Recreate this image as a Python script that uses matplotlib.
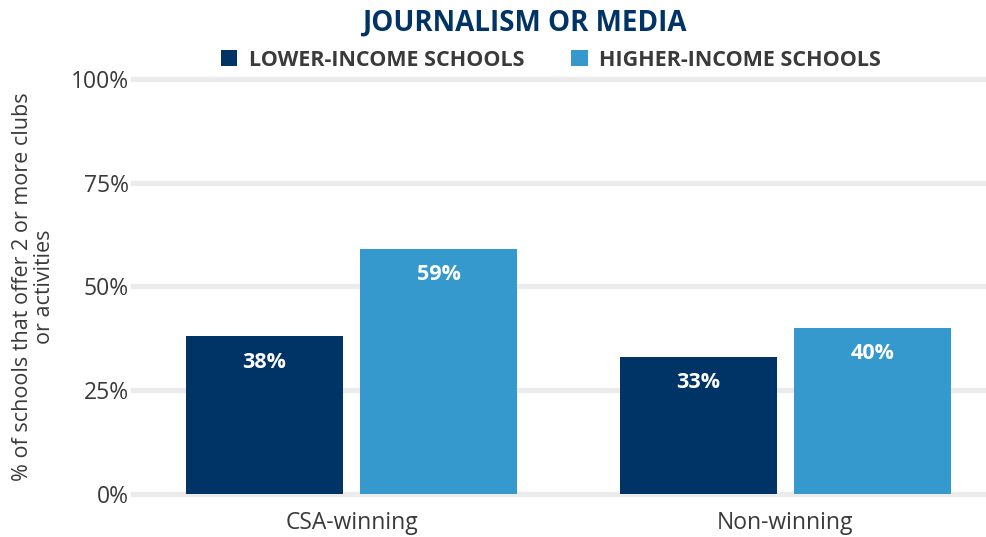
import matplotlib.pyplot as plt
import numpy as np

plt.rcParams['font.family'] = ['Open Sans', 'DejaVu Sans']

categories = ['CSA-winning', 'Non-winning']
lower_income = [38, 33]
higher_income = [59, 40]
series_names = ['LOWER-INCOME SCHOOLS', 'HIGHER-INCOME SCHOOLS']
yticks = [0, 25, 50, 75, 100]

NAVY = '#003366'
LIGHT_BLUE = '#3599cd'
GRID = '#ebebeb'
TEXT = '#3a3a3a'


def add_value_labels(ax, bars, values):
	for b, v in zip(bars, values):
		ax.annotate('%d%%' % v, xy=(b.get_x() + b.get_width() / 2, v),
		            xytext=(0, -11), textcoords='offset points',
		            ha='center', va='top', color='white',
		            fontsize=15.5, fontweight='bold')


def main():
	fig = plt.figure(figsize=(9.86, 5.37), dpi=100)
	ax = fig.add_axes([0.1349, 0.0801, 0.8641, 0.7728])

	x = np.arange(len(categories))
	width = 0.362
	offset = 0.2007

	# horizontal grid drawn by hand so the 0 and 100 lines are not clipped
	for t in yticks:
		ax.axhline(t, color=GRID, lw=3.8, zorder=0, clip_on=False)

	b1 = ax.bar(x - offset, lower_income, width, color=NAVY, zorder=2, label=series_names[0])
	b2 = ax.bar(x + offset, higher_income, width, color=LIGHT_BLUE, zorder=2, label=series_names[1])
	add_value_labels(ax, b1, lower_income)
	add_value_labels(ax, b2, higher_income)

	ax.set_xlim(-0.504, 1.461)
	ax.set_ylim(0, 100)
	ax.set_yticks(yticks)
	ax.set_yticklabels(['%d%%' % t for t in yticks])
	ax.set_xticks(x)
	ax.set_xticklabels(categories)
	ax.tick_params(axis='both', length=0, labelsize=16.5, labelcolor=TEXT)
	ax.tick_params(axis='y', pad=3)
	ax.tick_params(axis='x', pad=12)
	for s in ax.spines.values():
		s.set_visible(False)

	ax.set_ylabel('% of schools that offer 2 or more clubs\nor activities',
	              fontsize=15.5, color=TEXT, linespacing=1.05, va='center')
	ax.yaxis.set_label_coords(-0.117, 0.5)

	fig.text(524 / 986, 1 - 23 / 537, 'JOURNALISM OR MEDIA', ha='center', va='center',
	         fontsize=20, fontweight='bold', color=NAVY)

	leg = ax.legend(loc='center', bbox_to_anchor=(551 / 986, 1 - 60 / 537),
	                bbox_transform=fig.transFigure, ncol=2, frameon=False,
	                handlelength=0.75, handleheight=0.75, handletextpad=0.55,
	                columnspacing=2.2, borderaxespad=0,
	                prop={'size': 15.5, 'weight': 'bold'})
	for t in leg.get_texts():
		t.set_color(TEXT)

	plt.savefig('out.png', dpi=100)


if __name__ == "__main__":
	main()
